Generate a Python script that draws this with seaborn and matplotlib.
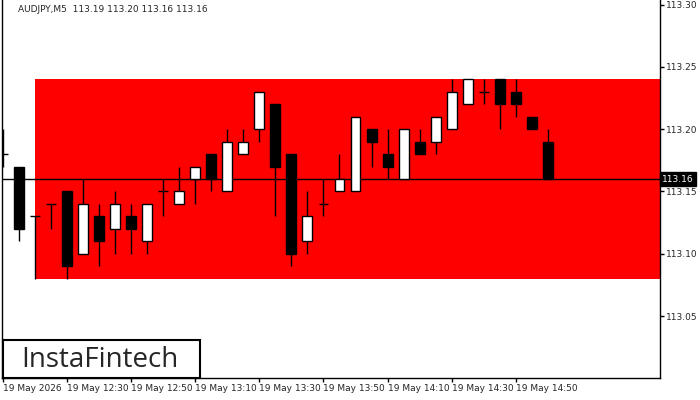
import numpy as np
import pandas as pd
import matplotlib
matplotlib.use("Agg")
import matplotlib.pyplot as plt
import seaborn as sns
from matplotlib.patches import Rectangle

# 5-minute AUDJPY candles, 19 May 2026, starting 12:10
opens  = [113.18, 113.17, 113.13, 113.14, 113.15, 113.10, 113.13, 113.12, 113.13, 113.11,
          113.15, 113.14, 113.16, 113.18, 113.15, 113.18, 113.20, 113.22, 113.18, 113.11,
          113.14, 113.15, 113.15, 113.20, 113.18, 113.16, 113.19, 113.19, 113.20, 113.22,
          113.23, 113.24, 113.23, 113.21, 113.19]
highs  = [113.20, 113.17, 113.13, 113.14, 113.15, 113.16, 113.14, 113.15, 113.14, 113.14,
          113.16, 113.17, 113.17, 113.18, 113.20, 113.20, 113.23, 113.22, 113.18, 113.15,
          113.16, 113.18, 113.21, 113.20, 113.20, 113.20, 113.20, 113.21, 113.24, 113.24,
          113.24, 113.24, 113.24, 113.21, 113.20]
lows   = [113.17, 113.11, 113.08, 113.12, 113.08, 113.10, 113.09, 113.10, 113.10, 113.10,
          113.13, 113.14, 113.14, 113.15, 113.15, 113.18, 113.19, 113.13, 113.09, 113.10,
          113.13, 113.15, 113.15, 113.17, 113.16, 113.16, 113.18, 113.18, 113.20, 113.22,
          113.22, 113.20, 113.21, 113.20, 113.16]
closes = [113.18, 113.12, 113.13, 113.14, 113.09, 113.14, 113.11, 113.14, 113.12, 113.14,
          113.15, 113.15, 113.17, 113.16, 113.19, 113.19, 113.23, 113.17, 113.10, 113.13,
          113.14, 113.16, 113.21, 113.19, 113.17, 113.20, 113.18, 113.21, 113.23, 113.24,
          113.23, 113.22, 113.22, 113.20, 113.16]

zone_top, zone_bottom, zone_start = 113.24, 113.08, 2
last_price = 113.16
price_ticks = [113.05, 113.10, 113.15, 113.20, 113.25, 113.30]
time_labels = ["19 May 2026", "19 May 12:30", "19 May 12:50", "19 May 13:10", "19 May 13:30",
               "19 May 13:50", "19 May 14:10", "19 May 14:30", "19 May 14:50"]

df = pd.DataFrame({"open": opens, "high": highs, "low": lows, "close": closes})
df["idx"] = np.arange(len(df))

sns.set_style("white")
plt.rcParams["font.family"] = ["DejaVu Sans"]

fig = plt.figure(figsize=(7, 4), dpi=100)
ax = fig.add_axes([2 / 700, 22 / 400, 658 / 700, 378 / 400])

x_min, x_max = -0.06, 41.0
y_min, y_max = 113.0003, 113.3037
ax.set_xlim(x_min, x_max)
ax.set_ylim(y_min, y_max)

# red zone
ax.add_patch(Rectangle((zone_start, zone_bottom), x_max - zone_start, zone_top - zone_bottom,
                       facecolor="#ff0000", edgecolor="none", zorder=0))

# candles
w = 0.62
for _, r in df.iterrows():
    ax.vlines(r.idx, r.low, r.high, color="black", lw=1, zorder=2)
    if r.open == r.close:
        ax.hlines(r.open, r.idx - w / 2, r.idx + w / 2, color="black", lw=1, zorder=3)
    else:
        fc = "white" if r.close > r.open else "black"
        lo, hi = min(r.open, r.close), max(r.open, r.close)
        ax.add_patch(Rectangle((r.idx - w / 2, lo), w, hi - lo, facecolor=fc,
                               edgecolor="black", lw=1, zorder=3))

ax.axhline(last_price, color="black", lw=1, zorder=1)

# axes styling
ax.spines["top"].set_visible(False)
for s in ["left", "right", "bottom"]:
    ax.spines[s].set_color("black")
    ax.spines[s].set_linewidth(1)
ax.yaxis.tick_right()
ax.set_yticks(price_ticks)
ax.set_yticklabels([f"{p:.2f}" for p in price_ticks], fontsize=6.5)
ax.set_xticks(np.arange(len(time_labels)) * 4)
ax.set_xticklabels(time_labels, fontsize=6.5, ha="left")
ax.tick_params(axis="both", length=3, width=1, color="black", pad=1.5, direction="out")
ax.tick_params(axis="y", right=True, left=False)
ax.tick_params(axis="x", bottom=True)

ax.text(1.003, (last_price - y_min) / (y_max - y_min), f"{last_price:.2f}",
        transform=ax.transAxes, fontsize=6.5, color="white", va="center", ha="left",
        bbox=dict(boxstyle="square,pad=0.25", facecolor="black", edgecolor="black"))

fig.text(18 / 700, 1 - 10 / 400, "AUDJPY,M5  113.19 113.20 113.16 113.16",
         fontsize=6.5, va="center", ha="left")

# logo box
fig.patches.append(Rectangle((3 / 700, 22 / 400), 197 / 700, 38 / 400, transform=fig.transFigure,
                             facecolor="white", edgecolor="black", lw=1.5, zorder=5))
fig.text(21 / 700, 40 / 400, "InstaFintech", fontsize=20, va="center", ha="left",
         zorder=6, family=["Open Sans", "DejaVu Sans"])

fig.savefig("out.png", dpi=100)
